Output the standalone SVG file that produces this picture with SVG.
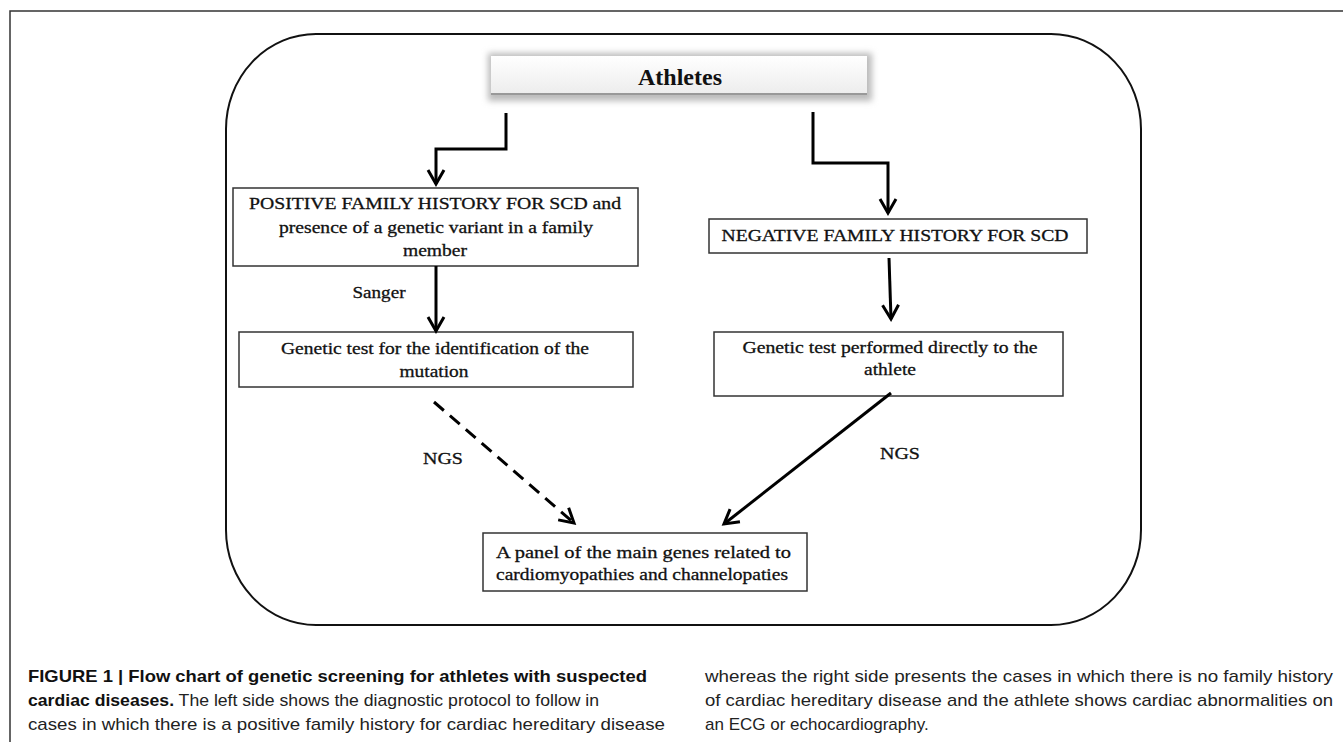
<svg xmlns="http://www.w3.org/2000/svg" width="1343" height="742" viewBox="0 0 1343 742">
<defs>
<style>
.box{fill:#fff;stroke:#333;stroke-width:1.5}
.t{font-family:"Liberation Serif","Times New Roman",serif;font-size:17px;fill:#111;stroke:#111;stroke-width:0.3}
.c{font-family:"Liberation Sans",Arial,sans-serif;font-size:17px;fill:#222}
.cb{font-weight:bold;fill:#111}
.conn{fill:none;stroke:#000;stroke-width:3}
</style>
<marker id="ah" viewBox="0 0 20 20" refX="17" refY="10" markerWidth="20" markerHeight="20" markerUnits="userSpaceOnUse" orient="auto">
<path d="M3,2 L17,10 L3,18" fill="none" stroke="#000" stroke-width="3"/>
</marker>
<linearGradient id="g" x1="0" y1="0" x2="0" y2="1">
<stop offset="0" stop-color="#ffffff"/>
<stop offset="1" stop-color="#ececec"/>
</linearGradient>
<filter id="sh" x="-10%" y="-30%" width="120%" height="160%">
<feGaussianBlur stdDeviation="3"/>
</filter>
</defs>
<rect width="1343" height="742" fill="#fff"/>
<path d="M10,742 L10,11 L1343,11" fill="none" stroke="#333" stroke-width="1.5"/>
<rect id="frame" x="226" y="34" width="915" height="591" rx="90" ry="95" fill="none" stroke="#111" stroke-width="2"/>

<g id="athletes">
<rect x="488" y="53" width="384" height="48" fill="#bbb" filter="url(#sh)"/>
<rect x="491" y="56" width="376" height="39" fill="url(#g)"/>
<line x1="491" y1="94" x2="867" y2="94" stroke="#999" stroke-width="2"/>
<text x="680" y="85" text-anchor="middle" font-family="Liberation Serif, Times New Roman, serif" font-size="24" font-weight="bold" fill="#111" textLength="84" lengthAdjust="spacingAndGlyphs">Athletes</text>
</g>

<g id="positive">
<rect class="box" x="233" y="188" width="405" height="78"/>
<text class="t" x="435" y="209" text-anchor="middle" textLength="372" lengthAdjust="spacingAndGlyphs">POSITIVE FAMILY HISTORY FOR SCD and</text>
<text class="t" x="436" y="233" text-anchor="middle" textLength="314" lengthAdjust="spacingAndGlyphs">presence of a genetic variant in a family</text>
<text class="t" x="435" y="256" text-anchor="middle" textLength="64" lengthAdjust="spacingAndGlyphs">member</text>
</g>

<g id="negative">
<rect class="box" x="709" y="219" width="378" height="34"/>
<text class="t" x="895" y="241" text-anchor="middle" textLength="347" lengthAdjust="spacingAndGlyphs">NEGATIVE FAMILY HISTORY FOR SCD</text>
</g>

<g id="test-left">
<rect class="box" x="239" y="332" width="394" height="55"/>
<text class="t" x="435" y="354" text-anchor="middle" textLength="308" lengthAdjust="spacingAndGlyphs">Genetic test for the identification of the</text>
<text class="t" x="434" y="377" text-anchor="middle" textLength="69" lengthAdjust="spacingAndGlyphs">mutation</text>
</g>

<g id="test-right">
<rect class="box" x="714" y="332" width="349" height="64"/>
<text class="t" x="890" y="353" text-anchor="middle" textLength="295" lengthAdjust="spacingAndGlyphs">Genetic test performed directly to the</text>
<text class="t" x="890" y="375" text-anchor="middle" textLength="52" lengthAdjust="spacingAndGlyphs">athlete</text>
</g>

<g id="panel">
<rect class="box" x="483" y="533" width="324" height="58"/>
<text class="t" x="496" y="558" textLength="295" lengthAdjust="spacingAndGlyphs">A panel of  the main genes related to</text>
<text class="t" x="496" y="580" textLength="292" lengthAdjust="spacingAndGlyphs">cardiomyopathies and channelopaties</text>
</g>

<g id="connectors">
<path class="conn" d="M506,113 L506,149 L436,149 L436,184" marker-end="url(#ah)"/>
<path class="conn" d="M813,112 L813,163 L888,163 L888,213" marker-end="url(#ah)"/>
<path class="conn" d="M436,266 L436,331" marker-end="url(#ah)"/>
<path class="conn" d="M889,258 L891,319" marker-end="url(#ah)"/>
<path class="conn" d="M434,402 L574,523" stroke-dasharray="13,8" marker-end="url(#ah)"/>
<path class="conn" d="M891,393 L724,524" stroke-width="2.5" marker-end="url(#ah)"/>
<text class="t" x="379" y="298" text-anchor="middle" textLength="53" lengthAdjust="spacingAndGlyphs">Sanger</text>
<text class="t" x="443" y="464" text-anchor="middle" textLength="40" lengthAdjust="spacingAndGlyphs">NGS</text>
<text class="t" x="900" y="459" text-anchor="middle" textLength="40" lengthAdjust="spacingAndGlyphs">NGS</text>
</g>

<g id="caption">
<text class="c cb" x="28" y="682" textLength="619" lengthAdjust="spacingAndGlyphs">FIGURE 1 | Flow chart of genetic screening for athletes with suspected</text>
<text class="c" x="28" y="706" textLength="571" lengthAdjust="spacingAndGlyphs"><tspan class="cb">cardiac diseases.</tspan> The left side shows the diagnostic protocol to follow in</text>
<text class="c" x="28" y="730" textLength="637" lengthAdjust="spacingAndGlyphs">cases in which there is a positive family history for cardiac hereditary disease</text>
<text class="c" x="705" y="682" textLength="628" lengthAdjust="spacingAndGlyphs">whereas the right side presents the cases in which there is no family history</text>
<text class="c" x="705" y="706" textLength="628" lengthAdjust="spacingAndGlyphs">of cardiac hereditary disease and the athlete shows cardiac abnormalities on</text>
<text class="c" x="705" y="730">an ECG or echocardiography.</text>
</g>
</svg>
